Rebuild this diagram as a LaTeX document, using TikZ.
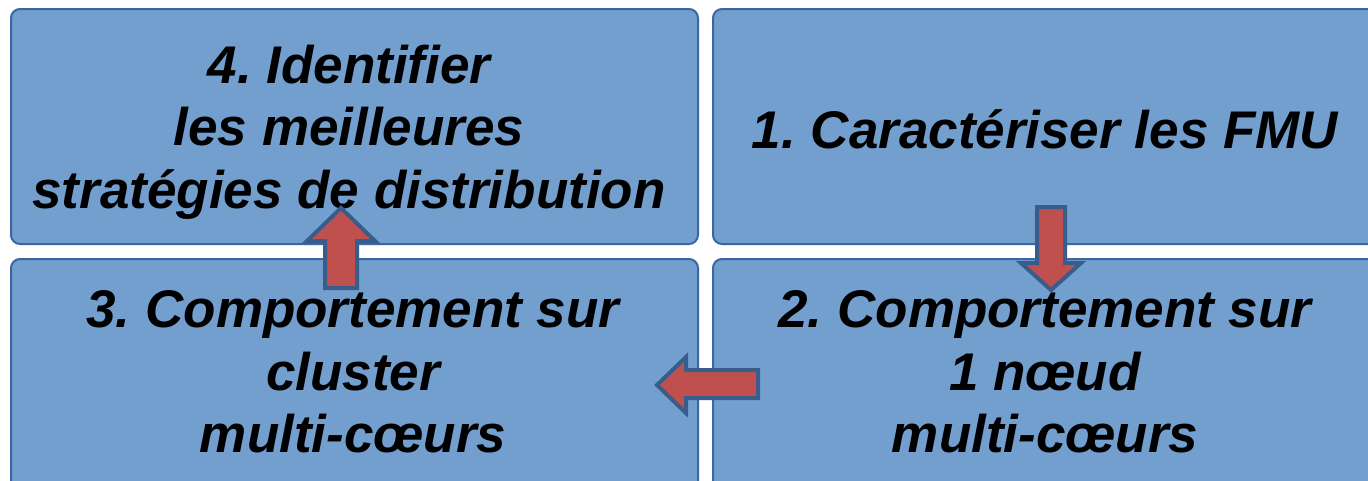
\documentclass[tikz,border=0pt]{standalone}
\usepackage{fontspec}
\setmainfont{Liberation Sans}
\frenchspacing
\definecolor{boxfill}{RGB}{115,159,207}
\definecolor{boxline}{RGB}{58,102,165}
\definecolor{arrowfill}{RGB}{192,80,77}
\definecolor{arrowline}{RGB}{56,93,138}
\begin{document}
\begin{tikzpicture}[x=1pt,y=-1pt,
  stagebox/.style={draw=boxline, fill=boxfill, line width=2pt, rounded corners=9pt,
    inner sep=0pt, anchor=north west},
  stagetext/.style={inner sep=0pt, align=center, text=black,
    font=\fontsize{53}{62.5}\selectfont\bfseries\itshape},
  blockarrow/.style={draw=arrowline, fill=arrowfill, line width=4pt, line join=miter}]
\useasboundingbox (0,0) rectangle (1368,480);
\clip (0,0) rectangle (1368,480);
\fill[white] (0,0) rectangle (1368,480);
% four stage boxes
\node[stagebox, minimum width=687pt, minimum height=235pt] (s4) at (10,8) {};
\node[stagebox, minimum width=668pt, minimum height=235pt] (s1) at (712,8) {};
\node[stagebox, minimum width=687pt, minimum height=234pt] (s3) at (10,258) {};
\node[stagebox, minimum width=668pt, minimum height=234pt] (s2) at (712,258) {};
% stage titles
\node[stagetext] (t4) at (349,132) {4. Identifier\\les meilleures\\stratégies de distribution};
\node[stagetext] (t1) at (1045,129) {1. Caractériser les FMU};
\node[stagetext] (t3) at (353,372) {3. Comportement sur\\cluster\\multi-cœurs};
\node[stagetext] (t2) at (1045,372) {2. Comportement sur\\1 nœud\\multi-cœurs};
% block arrows between stages
\draw[blockarrow] (1037,207) -- (1065,207) -- (1065,263) -- (1081,263) -- (1051,290)
  -- (1021,263) -- (1037,263) -- cycle;
\draw[blockarrow] (758,370) -- (758,398) -- (686,398) -- (686,413) -- (657,385)
  -- (686,357) -- (686,370) -- cycle;
\draw[blockarrow] (325,288) -- (357,288) -- (357,241) -- (375,241) -- (341,208)
  -- (307,241) -- (325,241) -- cycle;
\end{tikzpicture}
\end{document}
